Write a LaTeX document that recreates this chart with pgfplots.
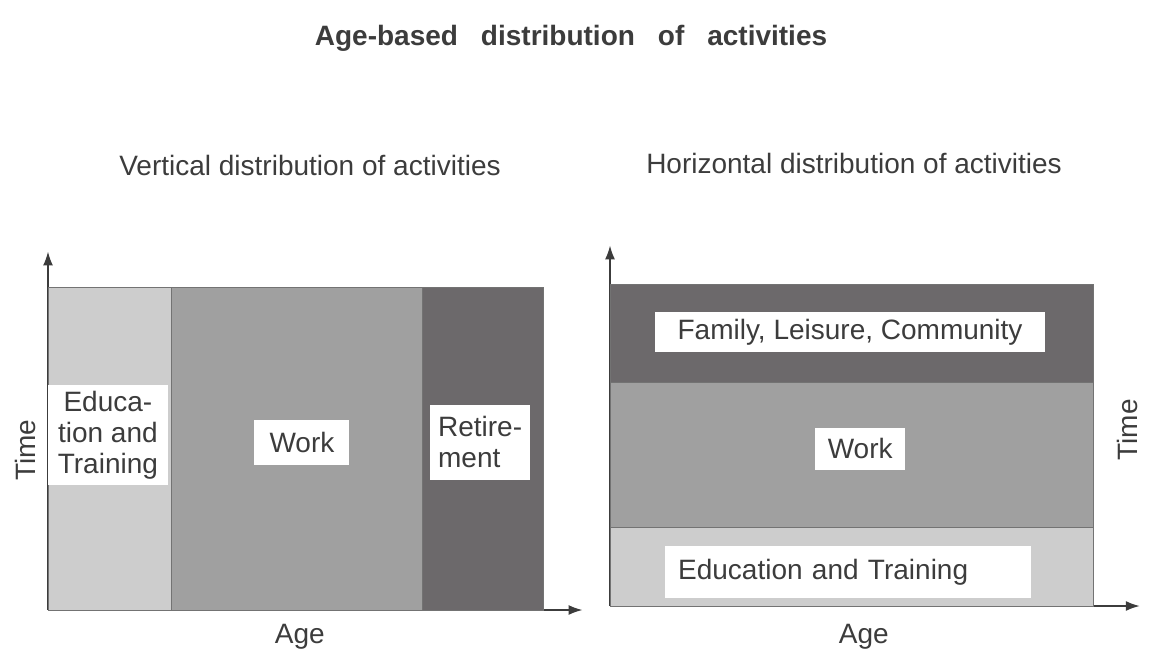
\documentclass[border=0pt]{standalone}
\usepackage{fontspec}
\setmainfont{Liberation Sans}
\usepackage{pgfplots}
\pgfplotsset{compat=1.18}
\usetikzlibrary{arrows.meta}

\definecolor{edu}{HTML}{CDCDCD}
\definecolor{work}{HTML}{A0A0A0}
\definecolor{dark}{HTML}{6C696B}
\definecolor{ink}{HTML}{3C3C3C}

\pgfplotsset{
  panel/.style={
    axis lines=left,
    axis line style={-{Latex[length=7pt,width=5pt]}, line width=0.9pt, ink},
    xtick=\empty, ytick=\empty,
    xmin=0, ymin=0,
    clip=false,
    anchor=south west,
    label style={font=\fontsize{14}{16}\selectfont, text=ink},
  },
}
\tikzset{
  band/.style={fill=#1, draw=black!55, line width=0.5pt},
  tag/.style={fill=white, inner sep=2pt, text=ink, font=\fontsize{14}{15.5}\selectfont},
}

\begin{document}
\begin{tikzpicture}
\useasboundingbox (0,0) rectangle (575pt,-326pt);

\node[font=\fontsize{14}{16}\selectfont\bfseries, text=ink] at (285.5pt,-19pt)
  {Age-based\hspace{0.82em}distribution\hspace{0.82em}of\hspace{0.82em}activities};
\node[font=\fontsize{14}{16}\selectfont, text=ink] at (155pt,-82.5pt)
  {Vertical distribution of activities};
\node[font=\fontsize{14}{16}\selectfont, text=ink] at (427pt,-81.5pt)
  {Horizontal distribution of activities};

% left panel: activities one after another along the age axis
\begin{axis}[panel, at={(24pt,-305pt)},
  x=2.475pt, y=1.615pt, xmax=108, ymax=111,
  xlabel={Age}, ylabel={Time},
  xlabel style={at={(axis description cs:0.471,-0.075)}, anchor=center},
  ylabel style={at={(axis description cs:-0.043,0.446)}, anchor=center},
]
\addplot[band=edu]  coordinates {(0,0) (25,0) (25,100) (0,100)} -- cycle;
\addplot[band=work] coordinates {(25,0) (75.6,0) (75.6,100) (25,100)} -- cycle;
\addplot[band=dark] coordinates {(75.6,0) (100,0) (100,100) (75.6,100)} -- cycle;
\node[tag, minimum width=60pt, minimum height=50pt, align=center]
  at (axis cs:12.1,54.2) {Educa-\\tion and\\Training};
\node[tag, minimum width=47.5pt, minimum height=22.5pt]
  at (axis cs:51.3,52) {Work};
\node[tag, minimum width=50pt, minimum height=37.5pt, align=left]
  at (axis cs:87.3,52) {Retire-\\ment};
\end{axis}

% right panel: activities side by side over the whole life
\begin{axis}[panel, at={(305pt,-303pt)},
  x=2.415pt, y=1.61pt, xmax=109.7, ymax=112,
  xlabel={Age}, ylabel={Time},
  xlabel style={at={(axis description cs:0.479,-0.086)}, anchor=center},
  ylabel style={at={(axis description cs:0.977,0.488)}, anchor=center},
]
\addplot[band=edu]  coordinates {(0,0) (100,0) (100,24.5) (0,24.5)} -- cycle;
\addplot[band=work] coordinates {(0,24.5) (100,24.5) (100,69.3) (0,69.3)} -- cycle;
\addplot[band=dark] coordinates {(0,69.3) (100,69.3) (100,100) (0,100)} -- cycle;
\node[tag, minimum width=195pt, minimum height=20pt]
  at (axis cs:49.7,85.1) {Family, Leisure, Community};
\node[tag, minimum width=45pt, minimum height=21pt]
  at (axis cs:51.8,48.8) {Work};
\node[tag, text width=170pt, minimum height=24pt, inner sep=6.5pt, align=left]
  at (axis cs:49.3,10.6) {Education and Training};
\end{axis}
\end{tikzpicture}
\end{document}
